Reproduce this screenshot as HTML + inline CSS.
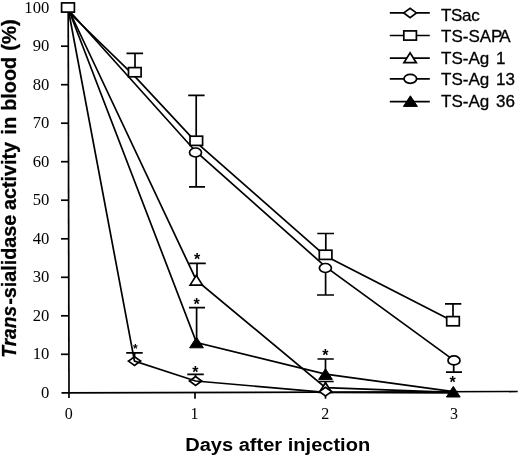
<!DOCTYPE html>
<html lang="en"><head><meta charset="utf-8"><title>Trans-sialidase activity in blood</title>
<style>html,body{margin:0;padding:0;background:#fff}body{width:520px;height:458px;overflow:hidden}svg{display:block}.l{stroke:#000;stroke-width:1.7;fill:none;stroke-linecap:butt}.m{stroke:#000;stroke-width:1.7;fill:#fff;stroke-linejoin:miter}.f{stroke:#000;stroke-width:1;fill:#000}.t{font-family:"Liberation Serif",serif;font-size:16px;fill:#000}.s{font-family:"Liberation Sans",sans-serif;font-size:17px;fill:#000;stroke:#000;stroke-width:.3px}.a{font-family:"Liberation Sans",sans-serif;font-size:16px;font-weight:bold;fill:#000;text-anchor:middle}.b{font-family:"Liberation Sans",sans-serif;font-weight:bold;fill:#000}</style></head><body>
<svg width="520" height="458" viewBox="0 0 520 458">
<rect width="520" height="458" fill="#fff"/>
<g class="l">
<path d="M68.2 7.7L69.0 398"/>
<path d="M61.5 392.90000000000003L517.7 391.5"/>
<path d="M61 354.3H68.9"/>
<path d="M61 315.8H68.8"/>
<path d="M61 277.3H68.8"/>
<path d="M61 238.8H68.7"/>
<path d="M61 200.2H68.6"/>
<path d="M61 161.7H68.5"/>
<path d="M61 123.2H68.4"/>
<path d="M61 84.7H68.4"/>
<path d="M61 46.2H68.3"/>
<path d="M61 7.7H68.2"/>
<path d="M195 392.40000000000003V398.7"/>
<path d="M325.5 392.40000000000003V398.7"/>
</g>
<text class="t" text-anchor="end" transform="translate(49.3 397.8) scale(1.04 1)">0</text>
<text class="t" text-anchor="end" transform="translate(49.3 359.3) scale(1.04 1)">10</text>
<text class="t" text-anchor="end" transform="translate(49.3 320.8) scale(1.04 1)">20</text>
<text class="t" text-anchor="end" transform="translate(49.3 282.3) scale(1.04 1)">30</text>
<text class="t" text-anchor="end" transform="translate(49.3 243.8) scale(1.04 1)">40</text>
<text class="t" text-anchor="end" transform="translate(49.3 205.2) scale(1.04 1)">50</text>
<text class="t" text-anchor="end" transform="translate(49.3 166.7) scale(1.04 1)">60</text>
<text class="t" text-anchor="end" transform="translate(49.3 128.2) scale(1.04 1)">70</text>
<text class="t" text-anchor="end" transform="translate(49.3 89.7) scale(1.04 1)">80</text>
<text class="t" text-anchor="end" transform="translate(49.3 51.2) scale(1.04 1)">90</text>
<text class="t" text-anchor="end" transform="translate(49.3 12.7) scale(1.04 1)">100</text>
<text class="t" x="68.7" y="418.6" text-anchor="middle">0</text>
<text class="t" x="194.4" y="418.6" text-anchor="middle">1</text>
<text class="t" x="325.3" y="418.6" text-anchor="middle">2</text>
<text class="t" x="454" y="418.6" text-anchor="middle">3</text>
<path class="l" d="M126.2 352.8H142.7M134.6 352.8V358"/>
<path class="l" d="M187.3 374.4H203.8M195.5 374.4V378"/>
<path class="m" d="M128.4 361.1L134.5 356.70000000000005L140.6 361.1L134.5 365.5Z"/>
<path class="m" d="M189.5 381L195.6 376.6L201.7 381L195.6 385.4Z"/>
<polyline class="l" points="68.2,9.0 134.5,361.1 195.6,381 325.5,392.3 453,392.8"/>
<polyline class="l" points="68.6,12.0 134.8,76.3 196.3,142.4 325.6,256.1 453,321.2"/>
<path class="l" d="M126.5 53.4H143.1M135 53.4V68"/>
<path class="l" d="M188.2 95.4H204.6M196.2 95.4V137"/>
<path class="l" d="M317.3 233.5H334M325.8 233.5V251"/>
<path class="l" d="M445 303.8H461.3M453 303.8V317"/>
<rect class="m" x="128.50" y="67.60" width="12.6" height="9.2"/>
<rect class="m" x="190.00" y="136.20" width="12.6" height="9.2"/>
<rect class="m" x="319.30" y="250.20" width="12.6" height="9.2"/>
<rect class="m" x="446.70" y="316.60" width="12.6" height="9.2"/>
<polyline class="l" points="68.4,9.0 196.3,280.2 325.5,387.6 453,392.3"/>
<path class="l" d="M189.2 263.4H205.8M197 263.4V277"/>
<path class="l" d="M318.7 381.5H333.7M325.5 381.5V384"/>
<path class="m" d="M190.10000000000002 285.09999999999997L196.3 275.3L202.5 285.09999999999997Z"/>
<path class="m" d="M319.3 392.5L325.5 382.70000000000005L331.7 392.5Z"/>
<polyline class="l" points="68.6,10.0 195.5,151.2 325.4,266.6 454,360.4"/>
<path class="l" d="M189 186.8H205M196.2 186.8V157"/>
<path class="l" d="M317 295H334M325.6 295V272"/>
<path class="l" d="M446 372.1H462M453.7 372.1V365"/>
<ellipse class="m" cx="195.5" cy="152.5" rx="6.0" ry="4.5"/>
<ellipse class="m" cx="325.4" cy="268" rx="6.0" ry="4.5"/>
<ellipse class="m" cx="454" cy="360.4" rx="6.0" ry="4.5"/>
<polyline class="l" points="68.4,9.0 196.5,342.5 325.5,374.1 453.3,391.7"/>
<path class="l" d="M189 307.7H205M196.6 307.7V339"/>
<path class="l" d="M317.5 359H333.8M325.5 359V370"/>
<path class="f" d="M189.6 347.8L196.5 337.2L203.4 347.8Z"/>
<path class="f" d="M318.6 379.40000000000003L325.5 368.8L332.4 379.40000000000003Z"/>
<path class="f" d="M446.40000000000003 397.0L453.3 386.4L460.2 397.0Z"/>
<path class="m" d="M319.4 391.6L325.5 387.20000000000005L331.6 391.6L325.5 396.0Z"/>
<rect class="m" x="61.60" y="2.90" width="12.8" height="9.2"/>
<text class="a" x="135.3" y="353.1" style="font-size:12px">*</text>
<text class="a" x="195.25" y="377.5" style="font-size:16px">*</text>
<text class="a" x="197" y="264.8" style="font-size:16px">*</text>
<text class="a" x="196.6" y="310.0" style="font-size:16px">*</text>
<text class="a" x="325.25" y="360.9" style="font-size:16px">*</text>
<text class="a" x="452.7" y="388.2" style="font-size:16px">*</text>
<path class="l" d="M389.8 12.9H429.8"/>
<path class="l" d="M389.8 35.5H429.8"/>
<path class="l" d="M389.8 58.1H429.8"/>
<path class="l" d="M389.8 78.8H429.8"/>
<path class="l" d="M389.8 101.6H429.8"/>
<path class="m" d="M403.8 12.9L410.1 8.2L416.40000000000003 12.9L410.1 17.6Z"/>
<rect class="m" x="403.80" y="30.90" width="12.6" height="9.2"/>
<path class="m" d="M403.90000000000003 62.7L410.1 52.900000000000006L416.3 62.7Z"/>
<ellipse class="m" cx="410.3" cy="78.8" rx="6.3" ry="4.5"/>
<path class="f" d="M403.4 106.39999999999999L410.4 95.8L417.4 106.39999999999999Z"/>
<text class="s" letter-spacing="-0.35" x="441" y="20.6">TSac</text>
<text class="s" x="441" y="42.0">TS-SAP<tspan dx="-2.0">A</tspan></text>
<text class="s" x="441" y="63.6">TS-Ag <tspan x="496.1">1</tspan></text>
<text class="s" x="441" y="85.1">TS-Ag <tspan x="496.1">13</tspan></text>
<text class="s" x="441" y="106.7">TS-Ag <tspan x="496.1">36</tspan></text>
<text class="b" x="185.2" y="451.1" font-size="19.2px" textLength="185" lengthAdjust="spacingAndGlyphs">Days after injection</text>
<text class="b" stroke="#000" stroke-width=".3" font-size="20.8px" transform="translate(16.0 0) rotate(-90)"><tspan font-style="italic" x="-357.63" textLength="51.64" lengthAdjust="spacingAndGlyphs">Trans</tspan><tspan x="-304.87" textLength="90.15" lengthAdjust="spacingAndGlyphs">-sialidase</tspan> <tspan x="-210.07" textLength="68.16" lengthAdjust="spacingAndGlyphs">activity</tspan> <tspan x="-134.66" textLength="17.93" lengthAdjust="spacingAndGlyphs">in</tspan> <tspan x="-110.83" textLength="53.93" lengthAdjust="spacingAndGlyphs">blood</tspan> <tspan x="-50.67" textLength="31.50" lengthAdjust="spacingAndGlyphs">(%)</tspan></text>
</svg></body></html>
